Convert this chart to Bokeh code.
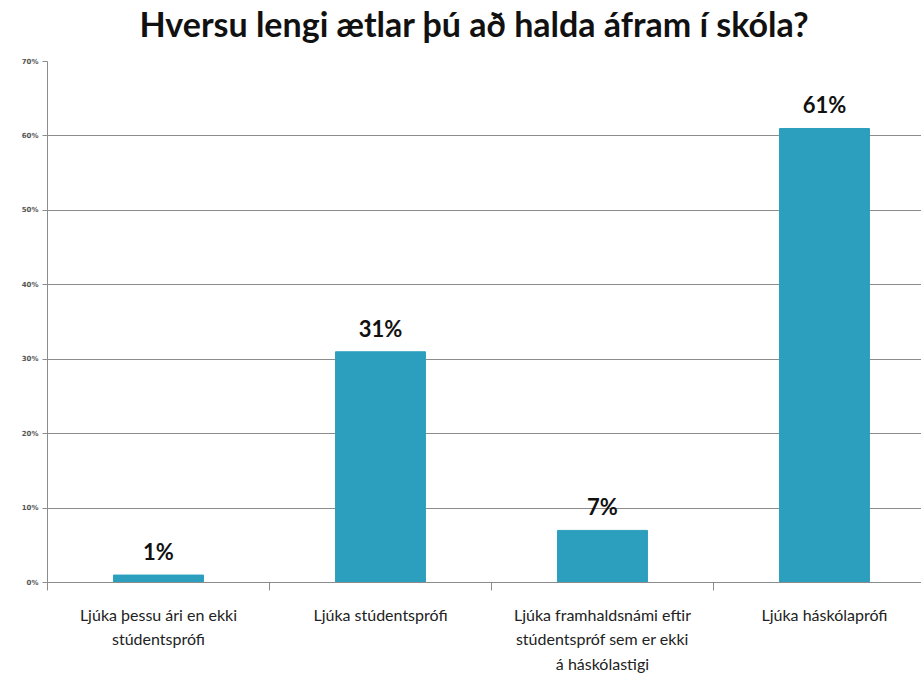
from bokeh.plotting import figure
from bokeh.models import Range1d, FixedTicker, ColumnDataSource, Title
from bokeh.core.properties import value
from bokeh.embed import file_html
from bokeh.resources import INLINE

title_text = "Hversu lengi ætlar þú að halda áfram í skóla?"
categories = ["Ljúka þessu ári en ekki\nstúdentsprófi",
              "Ljúka stúdentsprófi",
              "Ljúka framhaldsnámi eftir\nstúdentspróf sem er ekki\ná háskólastigi",
              "Ljúka háskólaprófi"]
values = [1, 31, 7, 61]
value_labels = ["1%", "31%", "7%", "61%"]
y_ticks = [0, 10, 20, 30, 40, 50, 60, 70]
y_tick_labels = ["0%", "10%", "20%", "30%", "40%", "50%", "60%", "70%"]

xs = [i + 0.5 for i in range(len(categories))]
src = ColumnDataSource(dict(x=xs, top=values, lab=value_labels))

p = figure(width=921, height=679, output_backend="svg", toolbar_location=None,
           x_range=Range1d(0, 3.937), y_range=Range1d(0, 70),
           min_border_left=47, min_border_right=0, min_border_top=61,
           min_border_bottom=97)
p.outline_line_color = None
p.background_fill_color = "white"
p.border_fill_color = "white"

p.title.text = title_text
p.title.text_font = "Lato"
p.title.text_font_size = "34px"
p.title.text_font_style = "bold"
p.title.text_color = "#111111"
p.title.align = "left"
p.title.offset = 92
p.title.standoff = 0

# blank spacer panel between the title and the plot area
p.add_layout(Title(text=" ", text_font_size="10px", standoff=5), "above")

p.vbar(x="x", top="top", width=0.405, source=src, color="#2C9FBE")
p.text(x="x", y="top", text="lab", source=src, text_align="center",
       text_baseline="bottom", y_offset=-10, text_font=value("Lato"),
       text_font_size="22px", text_font_style="bold", text_color="#111111")

# y axis
p.yaxis.ticker = FixedTicker(ticks=y_ticks)
p.yaxis.major_label_overrides = {t: l for t, l in zip(y_ticks, y_tick_labels)}
p.yaxis.major_label_text_font = "DejaVu Sans"
p.yaxis.major_label_text_font_size = "7px"
p.yaxis.major_label_text_font_style = "bold"
p.yaxis.major_label_text_color = "#555555"
p.yaxis.axis_line_color = "#8c8c8c"
p.yaxis.major_tick_line_color = "#8c8c8c"
p.yaxis.major_tick_out = 5
p.yaxis.major_tick_in = 0
p.yaxis.minor_tick_line_color = None
p.yaxis.major_label_standoff = 4

# x axis
p.xaxis.ticker = FixedTicker(ticks=xs, minor_ticks=[0, 1, 2, 3])
p.xaxis.major_label_overrides = {x: c for x, c in zip(xs, categories)}
p.xaxis.major_label_text_font = "Lato"
p.xaxis.major_label_text_font_size = "16px"
p.xaxis.major_label_text_color = "#222222"
p.xaxis.major_label_text_line_height = 1.3
p.xaxis.major_label_standoff = 14
p.xaxis.major_tick_line_color = None
p.xaxis.axis_line_color = "#8c8c8c"
p.xaxis.minor_tick_line_color = "#8c8c8c"
p.xaxis.minor_tick_out = 8
p.xaxis.minor_tick_in = 0

p.xgrid.grid_line_color = None
p.ygrid.ticker = FixedTicker(ticks=y_ticks)
p.ygrid.grid_line_color = "#8c8c8c"
p.ygrid.grid_line_width = 1

open("out.html", "w").write(file_html(p, INLINE))
